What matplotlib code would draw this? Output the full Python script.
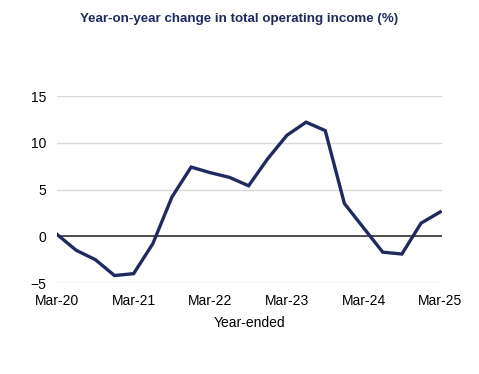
import matplotlib

matplotlib.use("Agg")
import matplotlib.pyplot as plt
import numpy as np

plt.rcParams["font.family"] = ["Liberation Sans", "DejaVu Sans"]

quarters = ["Mar-20", "Jun-20", "Sep-20", "Dec-20",
            "Mar-21", "Jun-21", "Sep-21", "Dec-21",
            "Mar-22", "Jun-22", "Sep-22", "Dec-22",
            "Mar-23", "Jun-23", "Sep-23", "Dec-23",
            "Mar-24", "Jun-24", "Sep-24", "Dec-24",
            "Mar-25"]
yoy_change = [0.2, -1.5, -2.5, -4.2,
              -4.0, -0.8, 4.2, 7.4,
              6.8, 6.3, 5.4, 8.3,
              10.8, 12.2, 11.3, 3.5,
              0.9, -1.7, -1.9, 1.4,
              2.6]
tick_labels = ["Mar-20", "Mar-21", "Mar-22", "Mar-23", "Mar-24", "Mar-25"]

navy = "#1f2a5e"

fig = plt.figure(figsize=(4.79, 3.74), dpi=100)
ax = fig.add_axes([0.119, 0.2433, 0.804, 0.5])

x = np.arange(len(quarters))
ax.plot(x, yoy_change, color=navy, lw=2.4, solid_joinstyle="miter", zorder=3)
ax.axhline(0, color="#333333", lw=1.2, zorder=2)

ax.set_ylim(-5, 15)
ax.set_yticks([-5, 0, 5, 10, 15])
ax.set_xlim(0, len(quarters) - 1 + 0.1)
tick_pos = [quarters.index(t) for t in tick_labels]
ax.set_xticks(tick_pos)
ax.set_xticklabels(tick_labels)
ax.tick_params(axis="both", length=0, labelsize=10, colors="black")
ax.tick_params(axis="y", pad=8)
ax.tick_params(axis="x", pad=8)

ax.grid(axis="y", color="#d9d9d9", lw=1, zorder=1)
for s in ax.spines.values():
    s.set_visible(False)

ax.set_xlabel("Year-ended", fontsize=10, labelpad=6)
fig.text(0.5, 0.95, "Year-on-year change in total operating income (%)",
         ha="center", va="center", fontsize=9.6, fontweight="bold", color=navy)

fig.savefig("out.png", dpi=100)
